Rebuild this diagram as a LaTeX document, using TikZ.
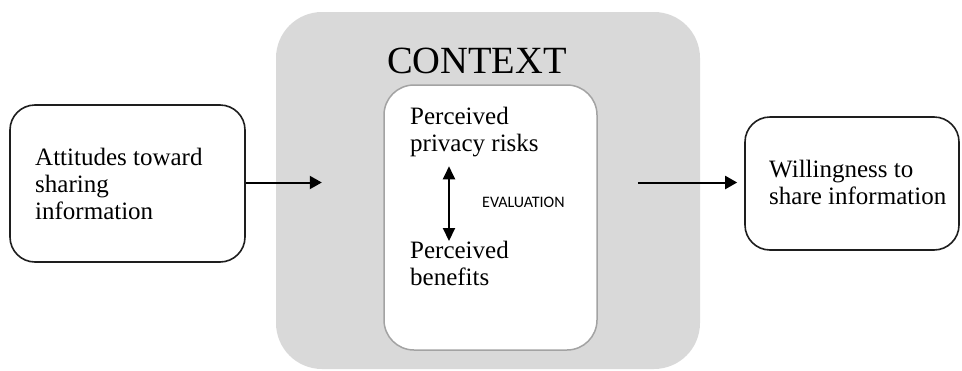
\documentclass[tikz,border=0pt]{standalone}
\usepackage{fontspec}
\setmainfont{Liberation Serif}
\newfontfamily\labelsans{Carlito}
\usetikzlibrary{arrows.meta}

\definecolor{ctxgray}{HTML}{D9D9D9}
\definecolor{innerline}{HTML}{A3A3A3}
\definecolor{boxline}{HTML}{1E1E1E}

\tikzset{
  outerbox/.style={draw=boxline, line width=1.6pt, rounded corners=25pt,
    fill=white, inner sep=0pt},
  ctxbox/.style={fill=ctxgray, rounded corners=46pt, inner sep=0pt},
  innerbox/.style={draw=innerline, line width=1.5pt, rounded corners=30pt,
    fill=white, inner sep=0pt},
  bodytext/.style={align=left, inner sep=0pt,
    font=\fontsize{25}{27}\selectfont},
  flow/.style={line width=2pt, -{Triangle[length=12pt,width=13pt]}},
  evalarrow/.style={line width=2pt,
    {Triangle[length=13pt,width=12pt]}-{Triangle[length=13pt,width=12pt]}},
}

\begin{document}
\begin{tikzpicture}[x=1pt, y=-1pt]
  \useasboundingbox (0,0) rectangle (962,370);

  % context panel with the evaluation box inside
  \node[ctxbox, minimum width=424pt, minimum height=357pt] (ctx) at (488,190.5) {};
  \node[anchor=base, inner sep=0pt, font=\fontsize{38.5}{40}\selectfont]
    (ctxtitle) at (477,73) {CONTEXT};
  \node[innerbox, minimum width=213pt, minimum height=265pt] (inner) at (490.5,217.5) {};

  \node[bodytext, anchor=west] (risks) at (410,132.2) {Perceived\\privacy risks};
  \node[bodytext, anchor=west] (benefits) at (410,263.0) {Perceived\\benefits};
  \node[anchor=west, inner sep=0pt, font=\labelsans\fontsize{16}{18}\selectfont]
    (evallabel) at (482,202) {EVALUATION};

  \coordinate (evalx) at (449,0);
  \draw[evalarrow, shorten <=9pt, shorten >=-0.5pt]
    (risks.south -| evalx) -- (benefits.north -| evalx);

  % input and output boxes
  \node[outerbox, minimum width=235pt, minimum height=157pt] (att) at (127.5,183.5) {};
  \node[bodytext, anchor=west] (atttext) at (35,183.8)
    {Attitudes toward\\sharing\\information};

  \node[outerbox, minimum width=214pt, minimum height=133pt] (will) at (852,183.5) {};
  \node[bodytext, anchor=west] (willtext) at (769,182.3)
    {Willingness to\\share information};

  % flow arrows
  \path (ctx.west |- att.east) ++(46,-1) coordinate (ctxin);
  \path (inner.east |- will.west) ++(40,-1) coordinate (ctxout);
  \draw[flow] (att.east |- ctxin) -- (ctxin);
  \draw[flow, shorten >=7pt] (ctxout) -- (will.west |- ctxout);
\end{tikzpicture}
\end{document}
